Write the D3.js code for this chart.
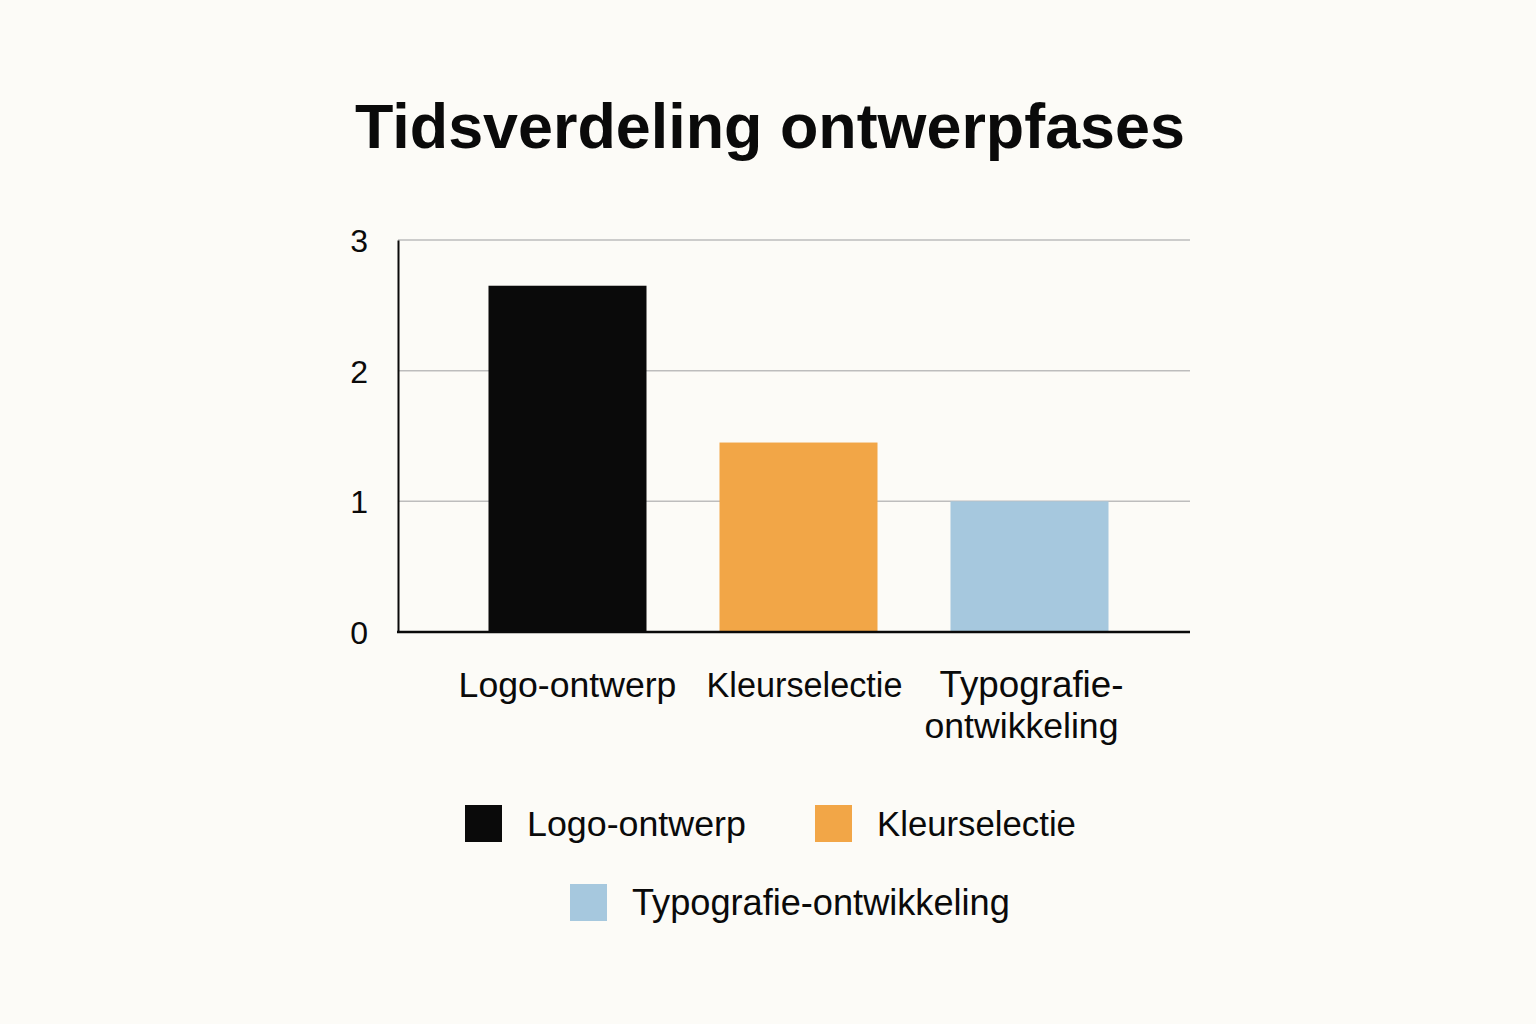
<!DOCTYPE html>
<html>
<head>
<meta charset="utf-8">
<script src="https://cdn.jsdelivr.net/npm/d3@7"></script>
<style>
  html, body { margin: 0; padding: 0; background: #fcfbf7; }
  svg { display: block; }
  text { font-family: "Liberation Sans", Arial, sans-serif; fill: #0a0a0a; }
</style>
</head>
<body>
<script>
var width = 1536, height = 1024;

var categories = ["Logo-ontwerp", "Kleurselectie", "Typografie-ontwikkeling"];
var axisLabels = [["Logo-ontwerp"], ["Kleurselectie"], ["Typografie-", "ontwikkeling"]];
var values = [2.65, 1.45, 1.0];
var colors = ["#0a0a0a", "#f2a647", "#a6c8de"];
var yTicks = [0, 1, 2, 3];

var svg = d3.select("body").append("svg")
    .attr("width", width)
    .attr("height", height);

svg.append("rect").attr("width", width).attr("height", height).attr("fill", "#fcfbf7");

// shrink/grow font so text hits a target width
function fit(sel, w) {
    sel.each(function() {
        var len = this.getComputedTextLength();
        var fs = parseFloat(d3.select(this).style("font-size"));
        d3.select(this).style("font-size", (fs * w / len) + "px");
    });
}

svg.append("text")
    .attr("x", 770).attr("y", 148)
    .attr("text-anchor", "middle")
    .style("font-size", "60px")
    .style("font-weight", "bold")
    .text("Tidsverdeling ontwerpfases")
    .call(fit, 830);

var plotLeft = 398, plotRight = 1190, plotTop = 240, plotBottom = 632;

var x = d3.scaleBand()
    .domain(categories)
    .range([452, 1145])
    .paddingInner(0.316)
    .paddingOuter(0.158);

var y = d3.scaleLinear().domain([0, 3]).range([plotBottom, plotTop]);

// gridlines
svg.append("g")
    .selectAll("line")
    .data(yTicks.filter(d => d > 0))
    .enter().append("line")
    .attr("x1", plotLeft).attr("x2", plotRight)
    .attr("y1", d => y(d)).attr("y2", d => y(d))
    .attr("stroke", "#bdbdbd")
    .attr("stroke-width", 1.5);

// bars
svg.append("g")
    .selectAll("rect")
    .data(categories)
    .enter().append("rect")
    .attr("x", d => x(d))
    .attr("width", x.bandwidth())
    .attr("y", (d, i) => y(values[i]))
    .attr("height", (d, i) => y(0) - y(values[i]))
    .attr("fill", (d, i) => colors[i]);

// axes
var yAxis = svg.append("g")
    .attr("transform", `translate(${plotLeft},0)`)
    .call(d3.axisLeft(y).tickValues(yTicks).tickFormat(d3.format("d")).tickSize(0).tickPadding(30));
yAxis.select(".domain").attr("stroke", "#0a0a0a").attr("stroke-width", 2);
yAxis.selectAll("text")
    .style("font-size", "32px")
    .style("font-family", "'Liberation Sans', Arial, sans-serif")
    .attr("fill", "#0a0a0a")
    .attr("dy", "0.36em");

svg.append("line")
    .attr("x1", plotLeft - 1).attr("x2", plotRight)
    .attr("y1", plotBottom).attr("y2", plotBottom)
    .attr("stroke", "#0a0a0a")
    .attr("stroke-width", 2.5);

// category labels
var labelShift = [[0], [6], [2, -8]];
var labelW = [[218], [196], [184, 194]];
var catG = svg.append("g");
axisLabels.forEach(function(lines, i) {
    var cx = x(categories[i]) + x.bandwidth() / 2;
    lines.forEach(function(line, j) {
        catG.append("text")
            .attr("x", cx + labelShift[i][j])
            .attr("y", 697 + j * 41)
            .attr("text-anchor", "middle")
            .style("font-size", "34px")
            .text(line)
            .call(fit, labelW[i][j]);
    });
});

// legend
var legendPos = [[465, 805], [815, 805], [570, 884]];
var legendTextW = [219, 199, 378];
var legend = svg.append("g")
    .selectAll("g")
    .data(categories)
    .enter().append("g")
    .attr("transform", (d, i) => `translate(${legendPos[i][0]},${legendPos[i][1]})`);

legend.append("rect")
    .attr("width", 37).attr("height", 37)
    .attr("fill", (d, i) => colors[i]);

legend.append("text")
    .attr("x", 62).attr("y", 31)
    .style("font-size", "34px")
    .text(d => d)
    .each(function(d, i) { d3.select(this).call(fit, legendTextW[i]); });
</script>
</body>
</html>
